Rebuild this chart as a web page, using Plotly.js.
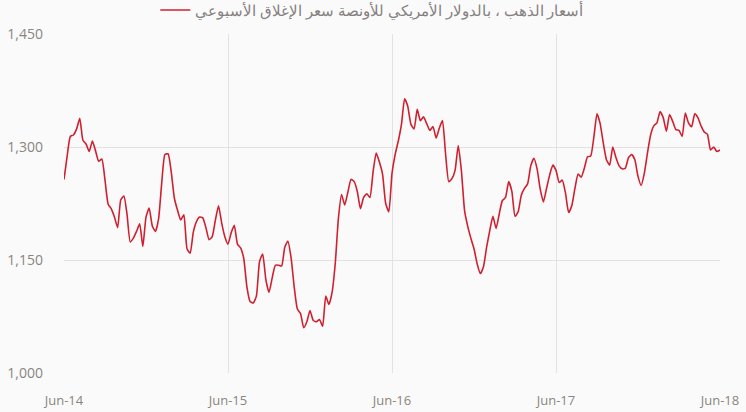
<!DOCTYPE html>
<html>
<head>
<meta charset="utf-8">
<script src="https://cdn.plot.ly/plotly-3.0.1.min.js"></script>
<style>
  html, body { margin: 0; padding: 0; background: #fafafa; }
  #chart { width: 746px; height: 412px; }
</style>
</head>
<body>
<div id="chart"></div>
<script>
// Weekly closing gold price, USD per ounce
const seriesName = "أسعار الذهب ، بالدولار الأمريكي للأونصة سعر الإغلاق الأسبوعي";
const firstWeek = "2014-06-06";

const pricesYear1 = [1257,1288,1314,1316,1324,1338,1309,1304,1294,1308,1295,1281,1284,1256,1224,1218,1207,1193,1230,1235,1210,1174,1179,1188,1198,1168,1207,1219,1195,1188,1205,1253,1290,1291,1267,1232,1216,1203,1210,1165,1159,1187,1201,1207,1206,1193,1177,1181,1203,1222,1199,1181];
const pricesYear2 = [1171,1186,1196,1171,1166,1152,1114,1095,1093,1102,1148,1158,1124,1107,1126,1143,1143,1142,1167,1175,1153,1114,1085,1079,1060,1068,1083,1070,1068,1071,1062,1102,1091,1107,1145,1205,1237,1223,1240,1257,1254,1241,1218,1233,1238,1233,1267,1292,1280,1264,1225,1214];
const pricesYear3 = [1265,1290,1308,1330,1364,1354,1330,1324,1350,1335,1340,1331,1322,1327,1312,1325,1335,1290,1254,1258,1269,1302,1269,1216,1195,1179,1165,1145,1132,1141,1167,1189,1208,1192,1211,1229,1233,1254,1241,1208,1214,1236,1245,1251,1275,1285,1271,1244,1227,1245,1263,1276];
const pricesYear4 = [1269,1253,1256,1239,1213,1222,1245,1264,1260,1272,1287,1288,1313,1344,1331,1305,1283,1276,1300,1286,1275,1271,1272,1286,1290,1283,1261,1249,1265,1292,1316,1328,1332,1347,1339,1321,1343,1334,1323,1322,1314,1345,1332,1327,1344,1339,1328,1320,1317,1296,1300,1294,1296];

const tickDates = ["2014-06-06","2015-06-05","2016-06-03","2017-06-02","2018-06-01"];
const tickLabels = ["Jun-14","Jun-15","Jun-16","Jun-17","Jun-18"];
const yTicks = [1000, 1150, 1300, 1450];

const prices = pricesYear1.concat(pricesYear2, pricesYear3, pricesYear4);
const dates = [];
const start = new Date(firstWeek + "T00:00:00Z");
for (let i = 0; i < prices.length; i++) {
  const d = new Date(start.getTime() + i * 7 * 86400000);
  dates.push(d.toISOString().slice(0, 10));
}

const trace = {
  x: dates,
  y: prices,
  type: "scatter",
  mode: "lines",
  name: seriesName,
  line: { color: "#d0202f", width: 1.6, shape: "spline", smoothing: 0.5 },
  hoverinfo: "skip"
};

const layout = {
  width: 746,
  height: 412,
  margin: { l: 64, r: 26, t: 34, b: 39, autoexpand: false },
  paper_bgcolor: "#fafafa",
  plot_bgcolor: "#fafafa",
  font: { family: "Open Sans, sans-serif", size: 13, color: "#8a8580" },
  showlegend: true,
  legend: {
    orientation: "h",
    x: 0.47,
    xanchor: "center",
    yref: "paper",
    y: 1.07,
    yanchor: "middle",
    bgcolor: "rgba(0,0,0,0)",
    font: { family: "Open Sans, sans-serif", size: 15, color: "#858080" }
  },
  xaxis: {
    type: "date",
    range: [tickDates[0], tickDates[tickDates.length - 1]],
    tickmode: "array",
    tickvals: tickDates,
    ticktext: tickLabels,
    showgrid: true,
    gridcolor: "#e2e2e2",
    gridwidth: 1,
    zeroline: false,
    showline: false,
    ticks: "",
    ticklabelstandoff: 18,
    tickfont: { size: 13, color: "#8a8580" }
  },
  yaxis: {
    range: [1000, 1450],
    tickmode: "array",
    tickvals: yTicks,
    tickformat: ",",
    showgrid: true,
    gridcolor: "#e2e2e2",
    gridwidth: 1,
    zeroline: false,
    showline: false,
    ticks: "",
    ticklabelstandoff: 20,
    tickfont: { size: 14, color: "#8a8580" }
  }
};

Plotly.newPlot("chart", [trace], layout, { displayModeBar: false, staticPlot: true });
</script>
</body>
</html>
